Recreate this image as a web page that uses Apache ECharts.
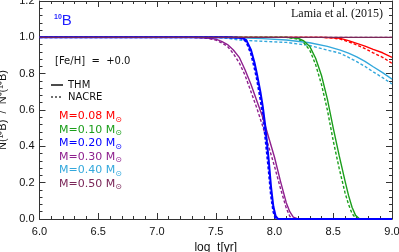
<!DOCTYPE html>
<html><head><meta charset="utf-8">
<script src="https://cdn.jsdelivr.net/npm/echarts@6/dist/echarts.min.js"></script>
<style>html,body{margin:0;padding:0;background:#fff}#c{width:399px;height:252px}</style>
</head><body><div id="c"></div>
<script>
// x ticks / y ticks
const xTicks = [6.0, 6.5, 7.0, 7.5, 8.0, 8.5, 9.0];
const yTicks = [0.0, 0.2, 0.4, 0.6, 0.8, 1.0, 1.2];
const masses = ['0.08', '0.10', '0.20', '0.30', '0.40', '0.50'];

// [log t, N/N0] – THM (solid) and NACRE (dashed)
const thm008 = [[6.0,1.0],[8.4,1.0],[8.5,0.998],[8.56,0.994],[8.63,0.982],[8.7,0.967],[8.77,0.952],[8.84,0.934],[8.92,0.915],[9.0,0.89]];
const nac008 = [[6.0,1.0],[8.4,1.0],[8.5,0.996],[8.56,0.99],[8.63,0.976],[8.7,0.958],[8.77,0.938],[8.84,0.915],[8.92,0.89],[9.0,0.857]];
const thm010 = [[6.0,1.0],[8.1,1.0],[8.2,0.995],[8.25,0.98],[8.3,0.95],[8.35,0.885],[8.4,0.79],[8.45,0.66],[8.5,0.5],[8.55,0.35],[8.6,0.21],[8.63,0.13],[8.66,0.065],[8.69,0.02],[8.72,0.003],[8.75,0.0],[9.0,0.0]];
const nac010 = [[6.0,1.0],[8.1,1.0],[8.2,0.99],[8.25,0.97],[8.3,0.93],[8.35,0.85],[8.4,0.74],[8.45,0.6],[8.5,0.43],[8.55,0.28],[8.6,0.145],[8.63,0.08],[8.66,0.03],[8.69,0.005],[8.71,0.0],[9.0,0.0]];
const thm020 = [[6.0,1.0],[7.6,1.0],[7.7,0.998],[7.73,0.995],[7.76,0.985],[7.8,0.93],[7.83,0.86],[7.85,0.8],[7.88,0.7],[7.9,0.62],[7.92,0.52],[7.95,0.33],[7.97,0.18],[7.99,0.07],[8.01,0.015],[8.03,0.0],[9.0,0.0]];
const nac020 = [[6.0,1.0],[7.6,1.0],[7.7,0.997],[7.73,0.992],[7.76,0.975],[7.8,0.91],[7.83,0.83],[7.85,0.77],[7.88,0.66],[7.9,0.57],[7.92,0.46],[7.95,0.27],[7.97,0.13],[7.99,0.04],[8.01,0.0],[9.0,0.0]];
const thm030 = [[6.0,1.0],[7.3,1.0],[7.4,0.998],[7.45,0.995],[7.5,0.99],[7.55,0.978],[7.6,0.96],[7.65,0.93],[7.7,0.89],[7.75,0.82],[7.8,0.74],[7.85,0.65],[7.9,0.56],[7.95,0.45],[8.0,0.34],[8.05,0.21],[8.1,0.09],[8.13,0.04],[8.16,0.01],[8.2,0.0],[9.0,0.0]];
const nac030 = [[6.0,1.0],[7.3,1.0],[7.4,0.997],[7.45,0.992],[7.5,0.985],[7.55,0.97],[7.6,0.95],[7.65,0.91],[7.7,0.86],[7.75,0.79],[7.8,0.7],[7.85,0.61],[7.9,0.51],[7.95,0.4],[8.0,0.29],[8.05,0.17],[8.1,0.06],[8.13,0.015],[8.15,0.0],[9.0,0.0]];
const thm040 = [[6.0,1.0],[7.5,1.0],[7.7,0.998],[7.9,0.993],[8.1,0.985],[8.3,0.97],[8.45,0.95],[8.56,0.93],[8.63,0.913],[8.7,0.893],[8.77,0.868],[8.84,0.838],[8.92,0.806],[9.0,0.77]];
const nac040 = [[6.0,1.0],[7.5,1.0],[7.6,0.995],[7.7,0.985],[7.9,0.978],[8.1,0.972],[8.3,0.955],[8.45,0.93],[8.56,0.912],[8.63,0.89],[8.7,0.866],[8.77,0.84],[8.84,0.81],[8.92,0.778],[9.0,0.743]];
const thm050 = [[6.0,1.0],[9.0,1.0]];
const nac050 = [[6.0,1.0],[9.0,1.0]];

const colors = ['#ff0000', '#1b9e1b', '#0000ff', '#8e1f8e', '#33a8dc', '#7a2658'];
const solidSets = [thm008, thm010, thm020, thm030, thm040, thm050];
const dashSets = [nac008, nac010, nac020, nac030, nac040, nac050];

const series = [];
[4, 0, 1, 3, 2, 5].forEach(i => {
  series.push({type:'line', data: dashSets[i], symbol:'none',
    lineStyle:{color:colors[i], width: i===2?2:1.4, type:[3,2]}, z:2, silent:true});
  series.push({type:'line', data: solidSets[i], symbol:'none',
    lineStyle:{color:colors[i], width: i===2?2:1.4}, z:3, silent:true});
});

const axisCol = '#333';
const font = 'Liberation Sans';
const xBase = {type:'value', min:6, max:9, interval:0.5,
  axisLine:{onZero:false, lineStyle:{color:axisCol, width:1}},
  axisTick:{inside:true, length:6, lineStyle:{color:axisCol}},
  minorTick:{show:true, splitNumber:5, length:3, lineStyle:{color:axisCol}},
  splitLine:{show:false}};
const yBase = {type:'value', min:0, max:1.2, interval:0.2,
  axisLine:{onZero:false, lineStyle:{color:axisCol, width:1}},
  axisTick:{inside:true, length:6, lineStyle:{color:axisCol}},
  minorTick:{show:true, splitNumber:5, length:3, lineStyle:{color:axisCol}},
  splitLine:{show:false}};

const labelGraphics = masses.map((m, i) => ({
  type:'text', left:59, top:111 + i*13.5,
  style:{text:'M=' + m + ' M{s|⊙}', fill:colors[i], font:'11px "DejaVu Sans"',
    rich:{s:{fontSize:8, fill:colors[i], fontFamily:'DejaVu Sans', padding:[6,0,0,0]}}}
}));

const chart = echarts.init(document.getElementById('c'), null, {renderer:'canvas'});
chart.setOption({
  animation:false,
  grid:{left:39.5, right:7, top:1, bottom:33, outerBoundsMode:'none', containLabel:false},
  xAxis:[
    Object.assign({}, xBase, {position:'bottom', name:'log  t[yr]', nameLocation:'middle', nameGap:22,
      nameTextStyle:{fontFamily:font, fontSize:12, color:'#111'},
      axisLabel:{formatter:v=>v.toFixed(1), fontFamily:font, fontSize:11, color:'#111', margin:7}}),
    Object.assign({}, xBase, {position:'top', axisLabel:{show:false}})
  ],
  yAxis:[
    Object.assign({}, yBase, {position:'left', name:'N(¹⁰B)  /  N⁰(¹⁰B)', nameLocation:'middle', nameGap:26,
      nameTextStyle:{fontFamily:font, fontSize:11, color:'#111'},
      axisLabel:{formatter:v=>v.toFixed(1), fontFamily:font, fontSize:11, color:'#111', margin:5}}),
    Object.assign({}, yBase, {position:'right', axisLabel:{show:false}})
  ],
  series: series,
  graphic:[
    {type:'text', left:54, top:13, style:{text:'{a|10}{b|B}', rich:{a:{fontSize:7, fill:'#1f1fff', fontFamily:font, fontWeight:'bold', padding:[0,0,7,0]}, b:{fontSize:15, fill:'#1f1fff', fontFamily:font}}}},
    {type:'text', right:16, top:8, style:{text:'Lamia et al. (2015)', fill:'#111', font:'12px "Liberation Serif"'}},
    {type:'text', left:55, top:56, style:{text:'[Fe/H]  =  +0.0', fill:'#111', font:'10px "DejaVu Sans"'}},
    {type:'line', shape:{x1:51, y1:85, x2:63, y2:85}, style:{stroke:'#111', lineWidth:1.5}},
    {type:'line', shape:{x1:51, y1:97, x2:63, y2:97}, style:{stroke:'#111', lineWidth:1.2, lineDash:[2,2]}},
    {type:'text', left:68, top:80, style:{text:'THM', fill:'#111', font:'10px "DejaVu Sans"'}},
    {type:'text', left:68, top:92, style:{text:'NACRE', fill:'#111', font:'10px "DejaVu Sans"'}}
  ].concat(labelGraphics)
});
</script>
</body></html>
